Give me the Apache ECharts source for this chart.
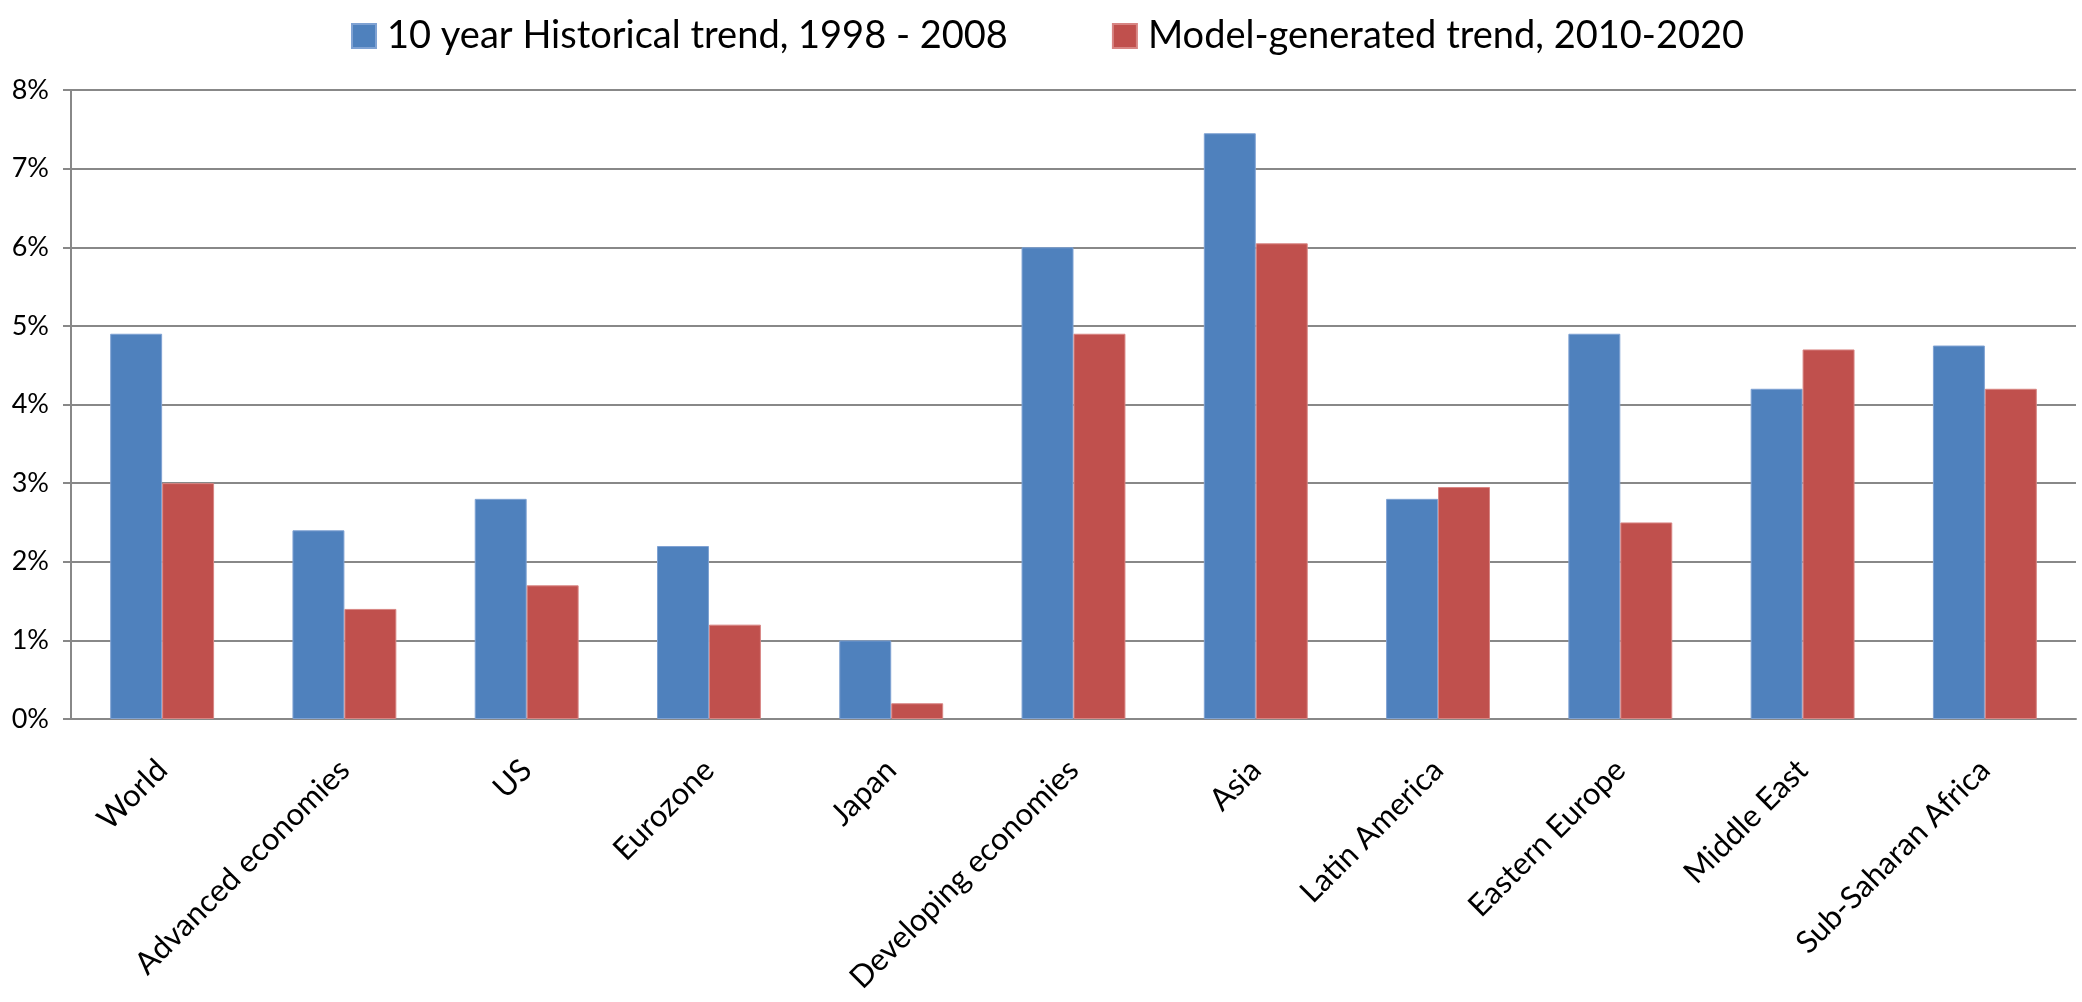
<!DOCTYPE html>
<html>
<head>
<meta charset="utf-8">
<script src="https://cdn.jsdelivr.net/npm/echarts@6/dist/echarts.min.js"></script>
<style>
html,body{margin:0;padding:0;background:#fff;}
#chart{width:2082px;height:1002px;}
</style>
</head>
<body>
<div id="chart"></div>
<script>
var categories = ["World","Advanced economies","US","Eurozone","Japan","Developing economies","Asia","Latin America","Eastern Europe","Middle East","Sub-Saharan Africa"];
var seriesNames = ["10 year Historical trend, 1998 - 2008","Model-generated trend, 2010-2020"];
var historical = [4.9, 2.4, 2.8, 2.2, 1.0, 6.0, 7.45, 2.8, 4.9, 4.2, 4.75];
var modelTrend = [3.0, 1.4, 1.7, 1.2, 0.2, 4.9, 6.05, 2.95, 2.5, 4.7, 4.2];
var yTicks = [0, 1, 2, 3, 4, 5, 6, 7, 8];

var FONT = 'Lato';
var chart = echarts.init(document.getElementById('chart'), null, {renderer:'canvas'});
chart.setOption({
  animation:false,
  backgroundColor:'#ffffff',
  legend:{
    left:346, top:12,
    itemWidth:24, itemHeight:24, itemGap:104,
    icon:'rect',
    textStyle:{fontFamily:FONT, fontSize:38, color:'#000', padding:[0,0,0,6]},
    data:seriesNames
  },
  grid:{left:71, right:6, top:90, bottom:283, containLabel:false},
  xAxis:{
    type:'category',
    data:categories,
    axisLine:{show:true, lineStyle:{color:'#888888', width:2}},
    axisTick:{show:false},
    axisLabel:{rotate:45, margin:46, fontFamily:FONT, fontSize:31, color:'#000', interval:0}
  },
  yAxis:{
    type:'value',
    min:yTicks[0], max:yTicks[yTicks.length-1], interval:1,
    axisLine:{show:true, lineStyle:{color:'#888888', width:2}},
    axisTick:{show:true, length:8, lineStyle:{color:'#888888', width:2}},
    splitLine:{show:true, lineStyle:{color:'#888888', width:2}},
    axisLabel:{formatter:'{value}%', margin:22, fontFamily:FONT, fontSize:27, color:'#000'}
  },
  series:[
    {name:seriesNames[0], type:'bar', data:historical, barGap:'0%', barCategoryGap:'43%',
     itemStyle:{color:'#4F81BD', borderColor:'#7FA2D3', borderWidth:1}},
    {name:seriesNames[1], type:'bar', data:modelTrend, barGap:'0%', barCategoryGap:'43%',
     itemStyle:{color:'#C0504D', borderColor:'#D88583', borderWidth:1}}
  ]
});
</script>
</body>
</html>
